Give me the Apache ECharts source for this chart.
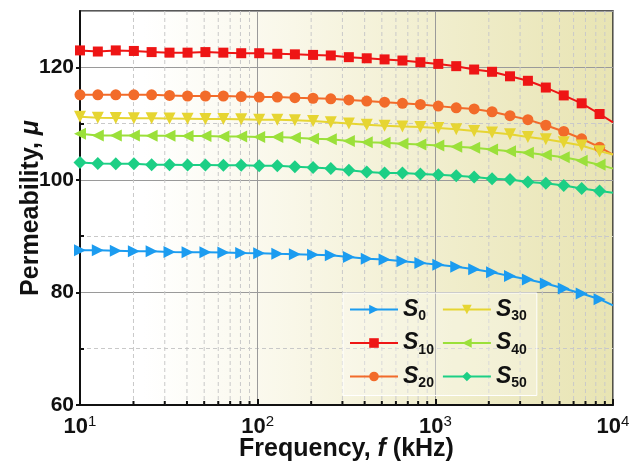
<!DOCTYPE html>
<html>
<head>
<meta charset="utf-8">
<script src="https://cdn.jsdelivr.net/npm/echarts@6/dist/echarts.min.js"></script>
<style>
  html, body { margin: 0; padding: 0; background: #fff; }
  #chart { width: 640px; height: 462px; }
</style>
</head>
<body>
<div id="chart"></div>
<script>
// frequencies (kHz) at the markers, last point is the axis end (no marker)
const freq = [10, 12.6, 15.9, 20.1, 25.3, 31.9, 40.3, 50.8, 64.1, 80.8,
              102, 129, 162, 205, 258, 326, 411, 518, 653, 824,
              1039, 1311, 1654, 2086, 2632, 3319, 4187, 5282, 6663, 8404, 10000];

const s0  = [87.5, 87.5, 87.4, 87.3, 87.3, 87.2, 87.15, 87.15, 87.1, 87.0,
             86.95, 86.85, 86.8, 86.7, 86.6, 86.3, 86.0, 85.85, 85.55, 85.25,
             84.9, 84.55, 84.1, 83.6, 82.9, 82.3, 81.6, 80.7, 79.8, 78.8, 77.7];
const s10 = [123.0, 122.8, 123.0, 122.9, 122.7, 122.6, 122.6, 122.7, 122.6, 122.5,
             122.5, 122.4, 122.3, 122.2, 122.1, 121.8, 121.6, 121.4, 121.2, 120.9,
             120.6, 120.2, 119.6, 119.2, 118.4, 117.6, 116.4, 115.0, 113.6, 111.7, 110.2];
const s20 = [115.1, 115.1, 115.1, 115.1, 115.1, 115.0, 114.9, 114.9, 114.9, 114.8,
             114.7, 114.7, 114.6, 114.5, 114.4, 114.2, 114.0, 113.8, 113.6, 113.4,
             113.1, 112.8, 112.6, 112.1, 111.4, 110.7, 109.7, 108.6, 107.3, 105.8, 104.5];
const s30 = [111.2, 111.05, 111.0, 110.95, 110.95, 110.9, 110.85, 110.8, 110.8, 110.75,
             110.7, 110.7, 110.6, 110.45, 110.25, 110.0, 109.8, 109.6, 109.5, 109.4,
             109.2, 109.0, 108.7, 108.4, 108.1, 107.6, 107.2, 106.7, 106.1, 105.1, 104.5];
const s40 = [108.2, 107.9, 107.9, 107.9, 107.85, 107.85, 107.8, 107.8, 107.7, 107.7,
             107.6, 107.6, 107.5, 107.3, 107.2, 106.9, 106.7, 106.6, 106.4, 106.3,
             106.1, 105.9, 105.7, 105.4, 105.1, 104.8, 104.4, 104.0, 103.4, 102.7, 102.0];
const s50 = [103.1, 102.9, 102.85, 102.85, 102.7, 102.7, 102.65, 102.65, 102.6, 102.6,
             102.5, 102.5, 102.35, 102.2, 102.0, 101.7, 101.4, 101.2, 101.2, 101.05,
             100.9, 100.75, 100.5, 100.2, 100.05, 99.6, 99.4, 99.0, 98.45, 98.0, 97.7];

const seriesNames = ['0', '10', '20', '30', '40', '50'];
const seriesValues = [s0, s10, s20, s30, s40, s50];
const colors = ['#1c9cf0', '#ee1515', '#f26b2a', '#e6d532', '#9be03a', '#1ccf85'];
const symbols = ['triangle', 'rect', 'circle', 'triangle', 'triangle', 'diamond'];
const rotates = [-90, 0, 0, 180, 90, 0];
const sizes = [12, 10, 11, 12, 12, 13];

// minor log grid (2..9 x each decade) and minor y grid
const minorFreq = [20, 30, 40, 50, 60, 70, 80, 90,
                   200, 300, 400, 500, 600, 700, 800, 900,
                   2000, 3000, 4000, 5000, 6000, 7000, 8000, 9000];
const yMinor = [70, 90, 110];

const FONT = 'Arial, "Liberation Sans", sans-serif';

function buildData(vals) {
    return vals.map(function (v, i) {
        if (i === vals.length - 1) {
            return { value: [freq[i], v], symbol: 'none' };
        }
        return [freq[i], v];
    });
}

const chart = echarts.init(document.getElementById('chart'));

const series = seriesValues.map(function (vals, i) {
    return {
        name: seriesNames[i],
        type: 'line',
        xAxisIndex: 0,
        yAxisIndex: 0,
        z: 3,
        data: buildData(vals),
        symbol: symbols[i],
        symbolRotate: rotates[i],
        symbolSize: sizes[i],
        showAllSymbol: true,
        color: colors[i],
        lineStyle: { width: 2, color: colors[i] },
        itemStyle: { color: colors[i] }
    };
});

// dashed minor vertical grid lines + small inside ticks on the bottom axis
series.unshift({
    type: 'custom',
    xAxisIndex: 0,
    yAxisIndex: 0,
    silent: true,
    z: 1,
    data: minorFreq.map(function (f) { return [f, 60]; }),
    encode: { x: 0, y: 1 },
    renderItem: function (params, api) {
        const x = api.coord([api.value(0), api.value(1)])[0];
        const top = params.coordSys.y;
        const bottom = top + params.coordSys.height;
        return {
            type: 'group',
            children: [{
                type: 'line',
                shape: { x1: x, y1: top, x2: x, y2: bottom },
                style: { stroke: '#c9c9c9', lineWidth: 1, lineDash: [4, 3] }
            }, {
                type: 'line',
                shape: { x1: x, y1: bottom, x2: x, y2: bottom - 4 },
                style: { stroke: '#111', lineWidth: 2 }
            }]
        };
    }
});

chart.setOption({
    backgroundColor: '#fff',
    animation: false,
    grid: {
        left: 80, right: 27, top: 11, bottom: 57,
        outerBoundsMode: 'none',
        containLabel: false,
        show: true,
        borderColor: '#222',
        borderWidth: 1.5,
        backgroundColor: new echarts.graphic.LinearGradient(0, 0, 1, 0, [
            { offset: 0, color: '#ffffff' },
            { offset: 0.12, color: '#ffffff' },
            { offset: 0.4, color: '#f9f7e8' },
            { offset: 0.7, color: '#f0edcb' },
            { offset: 1, color: '#e8e4b3' }
        ])
    },
    legend: {
        orient: 'vertical',
        left: 343,
        top: 293,
        height: 94,
        padding: [5, 10, 5, 6],
        itemWidth: 48,
        itemHeight: 12,
        itemGap: 8,
        backgroundColor: 'rgba(255,255,255,0.3)',
        borderColor: '#ffffff',
        borderWidth: 1,
        data: seriesNames,
        formatter: function (name) {
            return '{s|S}{sub|' + name + '}';
        },
        textStyle: {
            rich: {
                s: { fontFamily: FONT, fontSize: 23, fontWeight: 'bold', fontStyle: 'italic', color: '#111', lineHeight: 24 },
                sub: { fontFamily: FONT, fontSize: 14, fontWeight: 'bold', color: '#111', padding: [14, 0, 0, 0] }
            }
        }
    },
    xAxis: {
        type: 'log',
        logBase: 10,
        min: 10,
        max: 10000,
        name: '{a|Frequency, }{i|f}{a| (kHz)}',
        nameLocation: 'middle',
        nameGap: 32,
        nameMoveOverlap: false,
        nameTextStyle: {
            rich: {
                a: { fontFamily: FONT, fontSize: 25, fontWeight: 'bold', color: '#111' },
                i: { fontFamily: FONT, fontSize: 25, fontWeight: 'bold', fontStyle: 'italic', color: '#111' }
            }
        },
        axisLine: { show: true, lineStyle: { color: '#111', width: 2 } },
        axisTick: { show: true, inside: true, length: 6, lineStyle: { color: '#111', width: 2 } },
        axisLabel: {
            margin: 9,
            formatter: function (v) {
                return '{b|10}{sup|' + Math.round(Math.log10(v)) + '}';
            },
            rich: {
                b: { fontFamily: FONT, fontSize: 22, fontWeight: 'bold', color: '#111' },
                sup: { fontFamily: FONT, fontSize: 15, color: '#111', padding: [0, 0, 11, 0] }
            }
        },
        splitLine: { show: true, lineStyle: { color: '#9a9a9a', width: 1 } }
    },
    yAxis: [{
        type: 'value',
        min: 60,
        max: 130,
        interval: 20,
        name: '{a|Permeability, }{i|μ}',
        nameLocation: 'middle',
        nameGap: 36,
        nameMoveOverlap: false,
        nameTextStyle: {
            rich: {
                a: { fontFamily: FONT, fontSize: 25, fontWeight: 'bold', color: '#111' },
                i: { fontFamily: FONT, fontSize: 25, fontWeight: 'bold', fontStyle: 'italic', color: '#111' }
            }
        },
        axisLine: { show: true, lineStyle: { color: '#111', width: 2 } },
        axisTick: { show: true, inside: false, length: 4, lineStyle: { color: '#111', width: 2 } },
        axisLabel: {
            showMaxLabel: false,
            margin: 6,
            fontFamily: FONT, fontSize: 21, fontWeight: 'bold', color: '#111'
        },
        splitLine: { show: true, lineStyle: { color: '#9a9a9a', width: 1 } }
    }, {
        type: 'value',
        min: 60,
        max: 130,
        position: 'left',
        axisLine: { show: false },
        axisLabel: { show: false },
        axisTick: { show: true, inside: true, length: 4, customValues: yMinor, lineStyle: { color: '#111', width: 2 } },
        splitLine: { show: true, lineStyle: { color: '#c9c9c9', width: 1, type: [4, 3] } }
    }],
    series: series
});
</script>
</body>
</html>
